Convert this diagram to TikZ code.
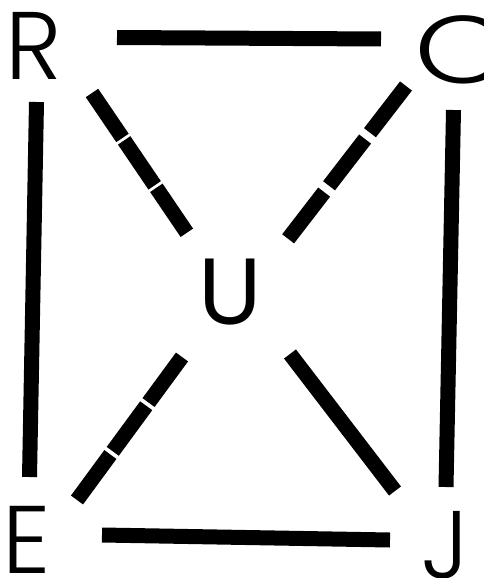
\documentclass[tikz,border=0pt]{standalone}
\usepackage{fontspec}
\newfontfamily\lettfont{Poppins Light}
\newfontfamily\lettmidfont{Poppins}

\begin{document}
\begin{tikzpicture}[x=1pt, y=-1pt,
    letter/.style={anchor=base, inner sep=0pt, font=\lettfont\fontsize{96}{96}\selectfont},
    bar/.style={line width=15pt, line cap=butt}]
    \useasboundingbox (0,0) rectangle (483,578);
    \fill[white] (0,0) rectangle (483,578);
    % letters
    \node[letter] (R) at (34,80) {R};
    \node[letter, xscale=1.3, transform shape] (C) at (463,83) {C};
    \node[letter, font=\lettmidfont\fontsize{94}{94}\selectfont] (U) at (230.5,324) {U};
    \node[letter] (E) at (27,573) {E};
    \node[letter] (J) at (445,578) {J};
    % outer frame
    \draw[bar] ([shift={(83,-42.5)}]R.base) -- ([shift={(-82,-44)}]C.base);
    \draw[bar] ([shift={(2.5,22)}]R.base) -- ([shift={(2.5,-96)}]E.base);
    \draw[bar] ([shift={(-9.5,27)}]C.base) -- ([shift={(1,-91)}]J.base);
    \draw[bar] ([shift={(75,-38)}]E.base) -- ([shift={(-55,-38)}]J.base);
    % diagonals
    \draw[bar, dash pattern=on 54.3pt off 3pt] ([shift={(58,13)}]R.base) -- ([shift={(-43.5,-91)}]U.base);
    \draw[bar, dash pattern=on 59pt off 8pt] ([shift={(-57,3)}]C.base) -- ([shift={(57.5,-85)}]U.base);
    \draw[bar, dash pattern=on 56.5pt off 4pt] ([shift={(-48.5,33)}]U.base) -- ([shift={(50,-73)}]E.base);
    \draw[bar] ([shift={(59.5,30)}]U.base) -- ([shift={(-50,-87)}]J.base);
\end{tikzpicture}
\end{document}
